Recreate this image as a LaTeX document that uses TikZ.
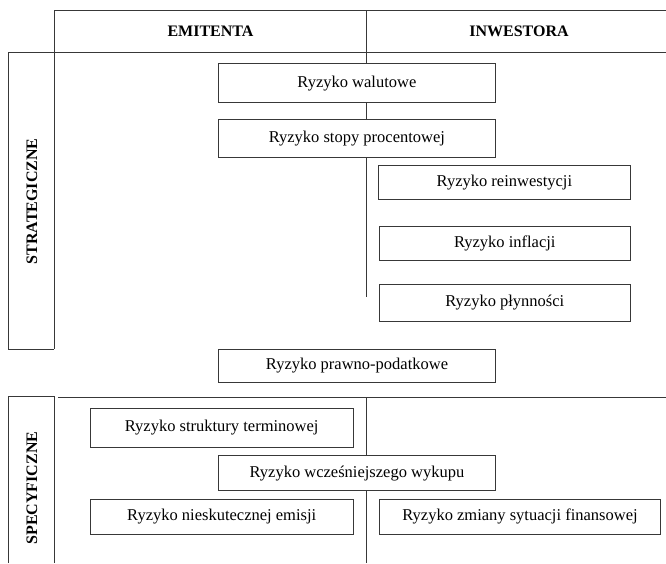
\documentclass[tikz,border=0pt]{standalone}
\usepackage{fontspec}
\setmainfont{Liberation Serif}
\begin{document}
\definecolor{linec}{gray}{0.22}
\begin{tikzpicture}[x=1pt,y=-1pt,
  frame/.style={draw=linec, line width=1pt},
  rbox/.style={draw=linec, fill=white, line width=1pt, inner sep=0pt,
    font=\fontsize{16.5}{18}\selectfont},
  headtxt/.style={font=\fontsize{16}{18}\selectfont\bfseries, inner sep=0pt},
  sidetxt/.style={font=\fontsize{16}{18}\selectfont\bfseries, inner sep=0pt, rotate=90}]
\useasboundingbox (0,0) rectangle (666,563);

% frame coordinates
\coordinate (topL) at (54.3,10.5);
\coordinate (topR) at (666,10.5);
\coordinate (midTop) at (366.7,10.5);
\coordinate (midEnd) at (366.7,297.3);
\coordinate (hL) at (8.3,52.7);
\coordinate (hR) at (666,52.7);
\coordinate (sL) at (58.3,397.3);
\coordinate (sR) at (666,397.3);
\coordinate (midS) at (366.7,397.3);
\coordinate (midB) at (366.7,563);

% upper frame: header row and strategic section
\draw[frame] (topL) -- (topR);
\draw[frame] (hL) -- (hR);
\draw[frame] (topL) -- (54.3,349.3);
\draw[frame] (hL) -- (8.3,349.3) -- (54.3,349.3);
\draw[frame] (midTop) -- (midEnd);

% lower frame: specific section
\draw[frame] (sL) -- (sR);
\draw[frame] (8.3,563) -- (8.3,396.7) -- (54.3,396.7) -- (54.3,563);
\draw[frame] (midS) -- (midB);

% headers
\node[headtxt] (emi) at (210.5,31.6) {EMITENTA};
\node[headtxt] (inw) at (519,31.6) {INWESTORA};
\node[sidetxt] (strat) at (32,201.5) {STRATEGICZNE};
\node[sidetxt] (spec) at (32,488) {SPECYFICZNE};

% risk boxes
\node[rbox, minimum width=277.2, minimum height=39.2] (walut) at (356.9,83.1) {Ryzyko walutowe};
\node[rbox, minimum width=277.2, minimum height=38.3] (stopy) at (356.9,138.2) {Ryzyko stopy procentowej};
\node[rbox, minimum width=251.8, minimum height=34.5] (reinw) at (504.4,182.3) {Ryzyko reinwestycji};
\node[rbox, minimum width=251, minimum height=34.7] (infl) at (504.8,243.4) {Ryzyko inflacji};
\node[rbox, minimum width=251, minimum height=37.3] (plyn) at (504.8,302.7) {Ryzyko płynności};
\node[rbox, minimum width=277.4, minimum height=32.7] (prawno) at (357,365.7) {Ryzyko prawno-podatkowe};
\node[rbox, minimum width=263.3, minimum height=38.3] (strukt) at (221.7,427.9) {Ryzyko struktury terminowej};
\node[rbox, minimum width=277.4, minimum height=35] (wykup) at (357,473.2) {Ryzyko wcześniejszego wykupu};
\node[rbox, minimum width=263.3, minimum height=35] (emisja) at (221.7,516.5) {Ryzyko nieskutecznej emisji};
\node[rbox, minimum width=281.4, minimum height=35] (sytuacja) at (520,516.5) {Ryzyko zmiany sytuacji finansowej};
\end{tikzpicture}
\end{document}
